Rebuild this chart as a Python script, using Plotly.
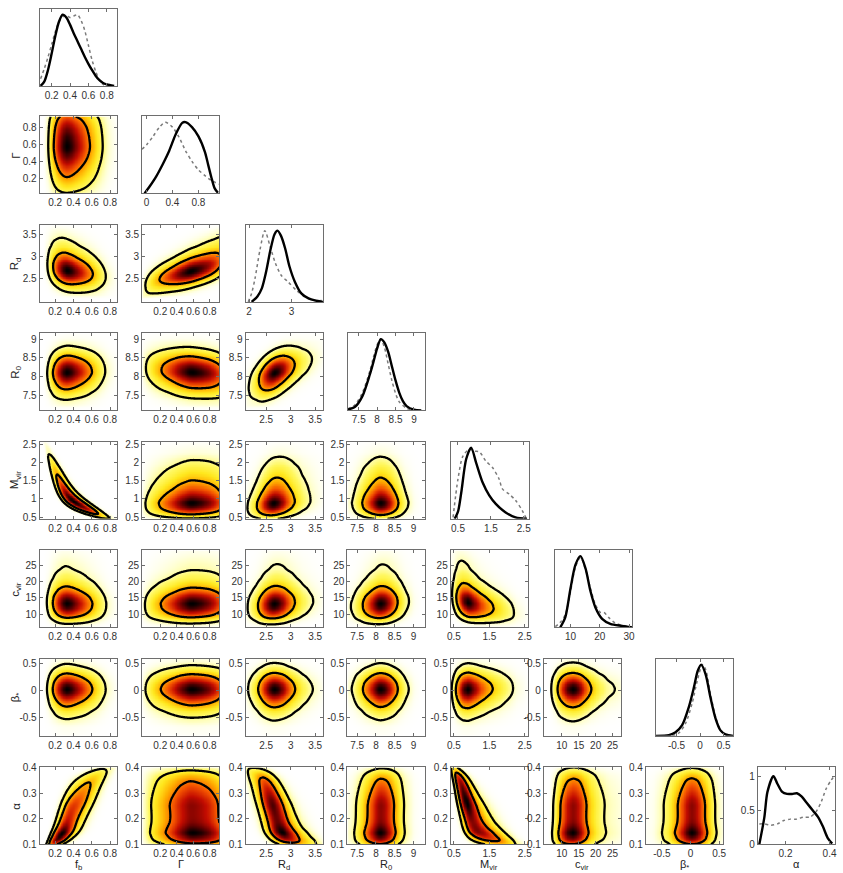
import math
import numpy as np
import plotly.graph_objects as go

W, H = 843, 873

# ---------------- data ----------------
labels = ["f<sub>b</sub>", "Γ", "R<sub>d</sub>", "R<sub>0</sub>", "M<sub>vir</sub>",
          "c<sub>vir</sub>", "β<sub>*</sub>", "α"]

# 1D marginals: solid = posterior, dotted = comparison curve (peak normalised to 1)
fb_x = [0.08, 0.12, 0.16, 0.20, 0.24, 0.28, 0.32, 0.36, 0.40, 0.44, 0.48, 0.52, 0.56, 0.60, 0.64, 0.68, 0.72, 0.76, 0.80, 0.88]
fb_post = [0.0, 0.06, 0.22, 0.45, 0.70, 0.90, 1.0, 0.96, 0.86, 0.74, 0.63, 0.52, 0.41, 0.31, 0.22, 0.14, 0.08, 0.04, 0.02, 0.0]
fb_dx = [0.08, 0.12, 0.16, 0.20, 0.24, 0.28, 0.32, 0.36, 0.40, 0.44, 0.48, 0.52, 0.56, 0.60, 0.64, 0.68, 0.72, 0.76, 0.80]
fb_dot = [0.10, 0.24, 0.40, 0.58, 0.76, 0.90, 0.97, 0.99, 0.96, 0.98, 1.0, 0.92, 0.78, 0.57, 0.36, 0.20, 0.08, 0.02, 0.0]

ga_x = [-0.03, 0.05, 0.15, 0.25, 0.35, 0.45, 0.55, 0.60, 0.70, 0.80, 0.90, 0.95, 1.00, 1.05, 1.10]
ga_post = [0.0, 0.10, 0.24, 0.41, 0.60, 0.83, 0.99, 1.0, 0.93, 0.80, 0.58, 0.40, 0.22, 0.07, 0.01]
ga_dx = [-0.07, 0.0, 0.1, 0.2, 0.29, 0.4, 0.5, 0.6, 0.7, 0.8, 0.9, 1.0, 1.12]
ga_dot = [0.62, 0.68, 0.80, 0.93, 1.0, 0.93, 0.79, 0.60, 0.45, 0.33, 0.25, 0.18, 0.13]

rd_x = [2.06, 2.2, 2.3, 2.4, 2.5, 2.6, 2.67, 2.75, 2.85, 2.95, 3.08, 3.23, 3.4, 3.55, 3.74]
rd_post = [0.0, 0.08, 0.19, 0.42, 0.72, 0.95, 1.0, 0.93, 0.75, 0.50, 0.28, 0.12, 0.05, 0.02, 0.0]
rd_dx = [1.98, 2.06, 2.14, 2.26, 2.37, 2.49, 2.61, 2.76, 2.92, 3.12, 3.31, 3.55, 3.74]
rd_dot = [0.0, 0.12, 0.33, 0.74, 1.0, 0.79, 0.56, 0.37, 0.28, 0.16, 0.07, 0.02, 0.02]

r0_x = [7.2, 7.4, 7.6, 7.8, 7.9, 8.0, 8.1, 8.2, 8.3, 8.4, 8.5, 8.6, 8.7, 8.8, 9.0, 9.2]
r0_post = [0.01, 0.05, 0.20, 0.50, 0.68, 0.87, 1.0, 0.95, 0.82, 0.62, 0.42, 0.25, 0.13, 0.06, 0.01, 0.0]
r0_dx = [7.2, 7.4, 7.6, 7.8, 7.9, 8.0, 8.05, 8.1, 8.2, 8.3, 8.4, 8.5, 8.6, 8.8, 9.0]
r0_dot = [0.02, 0.08, 0.25, 0.55, 0.75, 0.92, 0.97, 1.0, 0.88, 0.65, 0.42, 0.24, 0.12, 0.03, 0.0]

mv_x = [0.4, 0.5, 0.6, 0.75, 0.9, 1.05, 1.25, 1.45, 1.65, 1.95, 2.25, 2.6]
mv_post = [0.0, 0.10, 0.37, 0.84, 1.0, 0.79, 0.51, 0.33, 0.21, 0.09, 0.02, 0.0]
mv_dx = [0.35, 0.5, 0.65, 0.85, 1.0, 1.15, 1.35, 1.55, 1.75, 1.85, 2.05, 2.25, 2.45, 2.57]
mv_dot = [0.02, 0.56, 0.88, 0.98, 0.95, 0.94, 0.81, 0.72, 0.56, 0.42, 0.35, 0.26, 0.12, 0.01]

cv_x = [6.5, 8.2, 10, 11.7, 13.4, 15.1, 16.8, 18.5, 20.8, 23.6, 27.6, 31]
cv_post = [0.0, 0.14, 0.55, 0.88, 1.0, 0.83, 0.51, 0.28, 0.12, 0.05, 0.02, 0.0]
cv_dx = [4.8, 6.5, 8.2, 10, 11.7, 13.4, 15.1, 16.8, 18.5, 20.2, 21.4, 23, 25.3, 28.7, 31]
cv_dot = [0.01, 0.07, 0.18, 0.50, 0.85, 0.98, 0.82, 0.55, 0.32, 0.21, 0.21, 0.14, 0.06, 0.02, 0.01]

bs_x = [-0.94, -0.66, -0.52, -0.38, -0.24, -0.13, -0.05, 0.025, 0.12, 0.22, 0.33, 0.43, 0.54, 0.7]
bs_post = [0.0, 0.01, 0.05, 0.15, 0.40, 0.68, 0.91, 1.0, 0.86, 0.54, 0.24, 0.08, 0.02, 0.0]
bs_dx = [-0.59, -0.45, -0.31, -0.17, -0.06, 0.05, 0.12, 0.22, 0.33, 0.43, 0.54]
bs_dot = [0.0, 0.04, 0.17, 0.45, 0.77, 1.0, 0.93, 0.59, 0.27, 0.08, 0.02]

al_x = [0.081, 0.104, 0.118, 0.145, 0.163, 0.185, 0.207, 0.23, 0.252, 0.274, 0.296, 0.326, 0.348, 0.37, 0.392, 0.412]
al_post = [0.0, 0.40, 0.77, 1.0, 0.89, 0.77, 0.74, 0.74, 0.75, 0.70, 0.61, 0.49, 0.40, 0.26, 0.09, 0.01]
al_dx = [0.081, 0.104, 0.133, 0.163, 0.192, 0.222, 0.252, 0.281, 0.311, 0.341, 0.363, 0.385, 0.407, 0.418]
al_dot = [0.30, 0.30, 0.28, 0.30, 0.35, 0.37, 0.37, 0.40, 0.40, 0.49, 0.63, 0.82, 0.94, 0.99]

post_x = [fb_x, ga_x, rd_x, r0_x, mv_x, cv_x, bs_x, al_x]
post_y = [fb_post, ga_post, rd_post, r0_post, mv_post, cv_post, bs_post, al_post]
dot_x = [fb_dx, ga_dx, rd_dx, r0_dx, mv_dx, cv_dx, bs_dx, al_dx]
dot_y = [fb_dot, ga_dot, rd_dot, r0_dot, mv_dot, cv_dot, bs_dot, al_dot]

RHO = [
    [],
    [0.0],
    [-0.25, 0.6],
    [0.05, -0.15, 0.5],
    [-0.92, 0.05, 0.2, 0.0],
    [-0.05, 0.05, 0.12, 0.1, -0.35],
    [0.0, 0.0, 0.0, 0.0, 0.05, 0.0],
    [0.82, -0.05, -0.7, 0.05, -0.8, 0.05, 0.0],
]

# axis ranges and ticks
diag_range = [[0.07, 0.91], [-0.07, 1.12], [1.92, 3.74], [7.2, 9.3], [0.3, 2.65],
              [4.6, 31], [-0.94, 0.7], [0.074, 0.425]]
diag_ticks = [[0.2, 0.4, 0.6, 0.8], [0, 0.4, 0.8], [2, 3], [7.5, 8, 8.5, 9], [0.5, 1.5, 2.5],
              [10, 20, 30], [-0.5, 0, 0.5], [0.2, 0.4]]
xrange_off = [[0.03, 0.875], [-0.02, 0.92], [2.08, 3.66], [7.24, 9.3], [0.41, 2.59],
              [4.7, 27.5], [-0.78, 0.57]]
xticks_off = [[0.2, 0.4, 0.6, 0.8], [0.2, 0.4, 0.6, 0.8], [2.5, 3, 3.5], [7.5, 8, 8.5, 9],
              [0.5, 1.5, 2.5], [10, 15, 20, 25], [-0.5, 0, 0.5]]
yrange_off = [None, [0.03, 0.935], [1.96, 3.73], [7.11, 9.15], [0.45, 2.56], [6, 29.5],
              [-0.84, 0.58], [0.1, 0.4]]
yticks_off = [None, [0.2, 0.4, 0.6, 0.8], [2.5, 3, 3.5], [7.5, 8, 8.5, 9],
              [0.5, 1, 1.5, 2, 2.5], [10, 15, 20, 25], [-0.5, 0, 0.5], [0.1, 0.2, 0.3, 0.4]]

# ---------------- geometry (pixels) ----------------
OFF_L = [36, 139.5, 244, 346.7, 451, 545, 648]
DIAG_L = [36, 139.3, 244, 347, 451.7, 556, 658, 761]
ROW_T = [3, 112, 222, 332, 442, 552, 662, 772]
PW, PH = 78, 78

# ---------------- density helpers ----------------
zg = np.linspace(-7, 7, 2801)
Phi = 0.5 * (1 + np.vectorize(math.erf)(zg / math.sqrt(2)))


def ppf(u):
    u = np.clip(u, 1e-6, 1 - 1e-6)
    return np.interp(u, Phi, zg)


def build_marginal(k):
    lo = min(diag_range[k][0], (xrange_off[k][0] if k < 7 else 9e9),
             (yrange_off[k][0] if yrange_off[k] else 9e9)) - 0.05 * (diag_range[k][1] - diag_range[k][0])
    hi = max(diag_range[k][1], (xrange_off[k][1] if k < 7 else -9e9),
             (yrange_off[k][1] if yrange_off[k] else -9e9)) + 0.05 * (diag_range[k][1] - diag_range[k][0])
    g = np.linspace(lo, hi, 900)
    f = np.interp(g, post_x[k], post_y[k], left=0, right=0)
    dx = g[1] - g[0]
    s = 0.012 * (hi - lo)
    kk = np.arange(-80, 81) * dx
    ker = np.exp(-0.5 * (kk / s) ** 2)
    ker /= ker.sum()
    f = np.clip(np.convolve(f, ker, mode="same"), 0, None)
    F = np.cumsum(f) * dx
    f = f / F[-1]
    F = F / F[-1]
    return g, f, F


MARG = [build_marginal(k) for k in range(8)]


def density(i, j, xg, yg):
    gx, fxm, Fxm = MARG[j]
    gy, fym, Fym = MARG[i]
    fx = np.interp(xg, gx, fxm, left=0, right=0)
    Fx = np.interp(xg, gx, Fxm, left=0, right=1)
    fy = np.interp(yg, gy, fym, left=0, right=0)
    Fy = np.interp(yg, gy, Fym, left=0, right=1)
    zx, zy = ppf(Fx), ppf(Fy)
    r = RHO[i][j]
    ZX, ZY = np.meshgrid(zx, zy)
    c = np.exp(-(r * r * (ZX ** 2 + ZY ** 2) - 2 * r * ZX * ZY) / (2 * (1 - r * r))) / np.sqrt(1 - r * r)
    return c * np.outer(fy, fx)


def hpd_levels(d):
    v = np.sort(d.ravel())[::-1]
    c = np.cumsum(v)
    c /= c[-1]
    return v[np.searchsorted(c, 0.68)], v[np.searchsorted(c, 0.95)]


HOT_R = [[0.0, "rgb(255,255,255)"], [0.03, "rgb(255,255,200)"], [0.09, "rgb(255,248,95)"],
         [0.18, "rgb(255,232,30)"], [0.31, "rgb(255,172,0)"], [0.48, "rgb(245,85,0)"],
         [0.66, "rgb(195,12,0)"], [0.84, "rgb(100,0,0)"], [1.0, "rgb(0,0,0)"]]

FONT = "Liberation Sans, Arial, Helvetica, sans-serif"
AX = dict(showline=True, mirror="ticks", linecolor="#6e6e6e", linewidth=1, ticks="inside",
          ticklen=3, tickcolor="#6e6e6e", showgrid=False, zeroline=False, fixedrange=True,
          tickangle=0, tickfont=dict(size=10, color="#333333", family=FONT))

fig = go.Figure()
layout_axes = {}
counter = [0]


def new_axes(left, top, xr, xt, yr, yt, show_y):
    counter[0] += 1
    n = counter[0]
    sx = "" if n == 1 else str(n)
    xa = dict(AX, domain=[left / W, (left + PW) / W], range=xr, anchor="y" + sx,
              tickmode="array", tickvals=xt, ticktext=[f"{v:g}" for v in xt])
    ya = dict(AX, domain=[1 - (top + PH) / H, 1 - top / H], range=yr, anchor="x" + sx)
    if show_y:
        ya.update(tickmode="array", tickvals=yt, ticktext=[f"{v:g}" for v in yt])
    else:
        ya.update(tickmode="array", tickvals=[], ticktext=[], showticklabels=False, ticks="")
    layout_axes["xaxis" + sx] = xa
    layout_axes["yaxis" + sx] = ya
    return "x" + sx, "y" + sx


for i in range(8):
    for j in range(i + 1):
        if i == j:
            yr = [0, 1.13] if i == 7 else [0, 1.08]
            xr_, yr_ = new_axes(DIAG_L[j], ROW_T[i], diag_range[j], diag_ticks[j], yr,
                                [0, 0.5, 1], i == 7)
            fig.add_trace(go.Scatter(x=dot_x[j], y=dot_y[j], mode="lines",
                                     line=dict(color="#7a7a7a", width=1.5, dash="dot", shape="spline",
                                               smoothing=0.8),
                                     xaxis=xr_, yaxis=yr_, hoverinfo="skip", showlegend=False))
            fig.add_trace(go.Scatter(x=post_x[j], y=post_y[j], mode="lines",
                                     line=dict(color="black", width=2.4, shape="spline", smoothing=0.8),
                                     xaxis=xr_, yaxis=yr_, hoverinfo="skip", showlegend=False))
        else:
            xr = xrange_off[j]
            yr = yrange_off[i]
            xr_, yr_ = new_axes(OFF_L[j], ROW_T[i], xr, xticks_off[j], yr, yticks_off[i], True)
            gxw = np.linspace(MARG[j][0][0], MARG[j][0][-1], 260)
            gyw = np.linspace(MARG[i][0][0], MARG[i][0][-1], 260)
            dw = density(i, j, gxw, gyw)
            l68, l95 = hpd_levels(dw)
            xg = np.linspace(xr[0], xr[1], 110)
            yg = np.linspace(yr[0], yr[1], 110)
            d = density(i, j, xg, yg)
            fig.add_trace(go.Heatmap(x=xg, y=yg, z=d, colorscale=HOT_R, zmin=0, zmax=float(dw.max()),
                                     showscale=False, zsmooth="best", xaxis=xr_, yaxis=yr_,
                                     hoverinfo="skip"))
            for lev in (l95, l68):
                fig.add_trace(go.Contour(x=xg, y=yg, z=d, autocontour=False,
                                         contours=dict(coloring="none", start=float(lev), end=float(lev),
                                                       size=float(lev)),
                                         line=dict(color="black", width=2.3, smoothing=1.0),
                                         showscale=False, xaxis=xr_, yaxis=yr_, hoverinfo="skip"))

annotations = []
for i in range(1, 8):
    annotations.append(dict(text=labels[i], x=12 / W, y=1 - (ROW_T[i] + PH / 2) / H, xref="paper",
                            yref="paper", showarrow=False, textangle=-90, xanchor="center",
                            yanchor="middle", font=dict(size=11.5, color="#222222", family=FONT)))
for j in range(8):
    left = DIAG_L[7] if j == 7 else OFF_L[j]
    annotations.append(dict(text=labels[j], x=(left + PW / 2) / W, y=1 - 861.5 / H, xref="paper",
                            yref="paper", showarrow=False, xanchor="center", yanchor="top",
                            font=dict(size=11, color="#222222", family=FONT)))

fig.update_layout(width=W, height=H, margin=dict(l=0, r=0, t=0, b=0), paper_bgcolor="white",
                  plot_bgcolor="white", showlegend=False, annotations=annotations, **layout_axes)

fig.write_html("out.html", config={"displayModeBar": False},
               post_script="document.body.style.margin='0px';document.body.style.overflow='hidden';")
